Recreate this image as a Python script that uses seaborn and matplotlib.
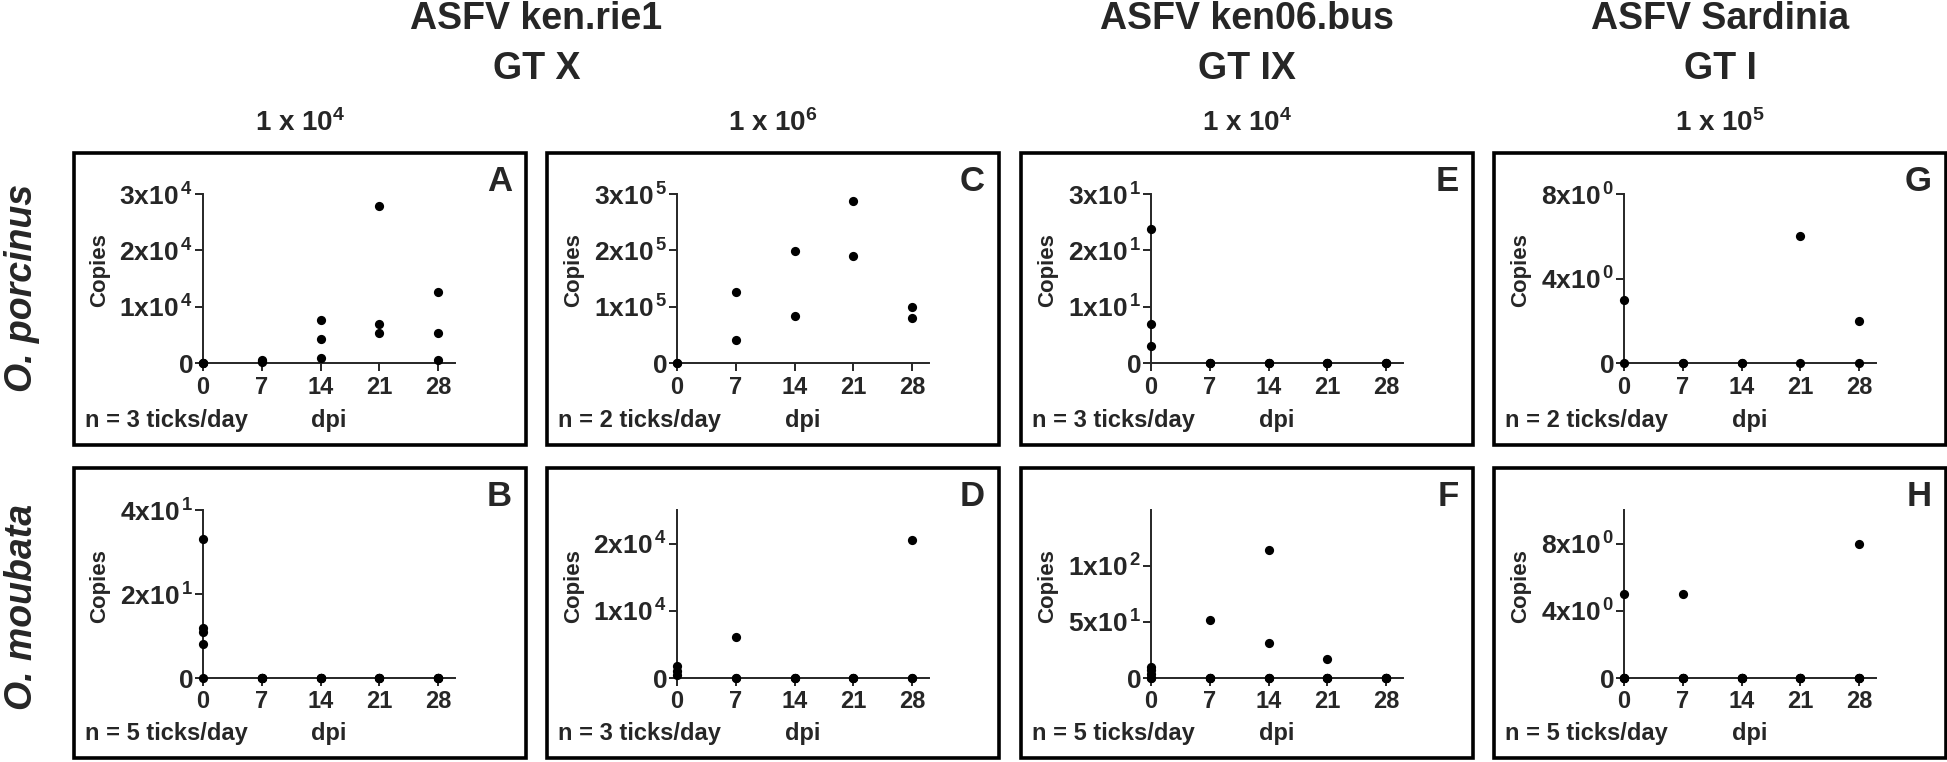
import numpy as np
import pandas as pd
import matplotlib
matplotlib.use("Agg")
import matplotlib.pyplot as plt
from matplotlib.patches import Rectangle
import seaborn as sns

# days post infection
dpi_days = [0, 7, 14, 21, 28]

# O. porcinus (top row): copies per tick, one inner list per day
copies_A = [[0, 0, 0], [600, 300, 100], [7600, 4200, 950], [27900, 6900, 5400], [12600, 5400, 600]]
copies_C = [[0, 0], [126600, 40400], [198000, 83800], [287000, 190700], [99800, 80200]]
copies_E = [[23.8, 7.0, 3.0], [0, 0, 0], [0, 0, 0], [0, 0, 0], [0, 0, 0]]
copies_G = [[3.0, 0], [0, 0], [0, 0], [6.0, 0], [2.0, 0]]

# O. moubata (bottom row)
copies_B = [[33, 12, 11, 8, 0], [0, 0, 0, 0, 0], [0, 0, 0, 0, 0], [0, 0, 0, 0, 0], [0, 0, 0, 0, 0]]
copies_D = [[1800, 1000, 500], [6100, 0, 0], [0, 0, 0], [0, 0, 0], [20500, 0, 0]]
copies_F = [[10, 7, 4, 0, 0], [52, 0, 0, 0, 0], [114, 31, 0, 0, 0], [17, 0, 0, 0, 0], [0, 0, 0, 0, 0]]
copies_H = [[5, 0, 0, 0, 0], [5, 0, 0, 0, 0], [0, 0, 0, 0, 0], [0, 0, 0, 0, 0], [8, 0, 0, 0, 0]]

panel_letters = ["A", "B", "C", "D", "E", "F", "G", "H"]
panel_copies = [copies_A, copies_B, copies_C, copies_D, copies_E, copies_F, copies_G, copies_H]
ticks_per_day = [3, 5, 2, 3, 3, 5, 2, 5]
y_max = [3e4, 40, 3e5, 2.5e4, 30, 150, 8, 10]
y_ticks = [[0, 1e4, 2e4, 3e4], [0, 20, 40], [0, 1e5, 2e5, 3e5], [0, 1e4, 2e4],
           [0, 10, 20, 30], [0, 50, 100], [0, 4, 8], [0, 4, 8]]

strain_titles = [["ASFV ken.rie1", "GT X"], ["ASFV ken06.bus", "GT IX"], ["ASFV Sardinia", "GT I"]]
dose_labels = ["1 x 10$^{4}$", "1 x 10$^{6}$", "1 x 10$^{4}$", "1 x 10$^{5}$"]
tick_species = ["O. porcinus", "O. moubata"]

sns.set_style("ticks")
plt.rcParams["font.family"] = ["Liberation Sans", "DejaVu Sans"]
plt.rcParams["font.weight"] = "bold"
plt.rcParams["mathtext.fontset"] = "custom"
plt.rcParams["mathtext.rm"] = "Liberation Sans:bold"
plt.rcParams["mathtext.it"] = "Liberation Sans:bold"
plt.rcParams["mathtext.bf"] = "Liberation Sans:bold"
plt.rcParams["mathtext.default"] = "rm"

W, H = 1947, 762
fig = plt.figure(figsize=(W / 100, H / 100), dpi=100)


def fx(x):
    return x / W


def fy(y):
    return 1 - y / H


def sci_label(v):
    if v == 0:
        return "0"
    e = int(np.floor(np.log10(v)))
    m = v / 10 ** e
    return f"{m:g}x10$^{{\\,{e}}}$"


box_left = [74, 547, 1021, 1494]
box_w = 452
box_rows = [(153, 445), (468, 758)]
axis_x0 = [203, 677, 1151, 1624]
axis_w = 252
axis_rows = [(194, 363), (510, 678)]

for i, letter in enumerate(panel_letters):
    col, row = i // 2, i % 2
    # frame round each panel
    bt, bb = box_rows[row]
    fig.add_artist(Rectangle((fx(box_left[col]), fy(bb)), box_w / W, (bb - bt) / H,
                             transform=fig.transFigure, fill=False, lw=2.6, ec="black"))

    at, ab = axis_rows[row]
    ax = fig.add_axes([fx(axis_x0[col]), fy(ab), axis_w / W, (ab - at) / H])

    days, vals = [], []
    for d, day_vals in zip(dpi_days, panel_copies[i]):
        days += [d] * len(day_vals)
        vals += day_vals
    df = pd.DataFrame({"dpi": days, "copies": vals})
    sns.scatterplot(data=df, x="dpi", y="copies", color="black", s=44, linewidth=0,
                    clip_on=False, zorder=3, legend=False, ax=ax)

    ax.set_xlim(0, 30)
    ax.set_ylim(0, y_max[i])
    ax.set_xticks(dpi_days)
    ax.set_xticklabels([str(d) for d in dpi_days], fontsize=17, fontweight="bold")
    ax.set_yticks(y_ticks[i])
    ax.set_yticklabels([sci_label(v) for v in y_ticks[i]], fontsize=19)
    ax.set_xlabel("")
    ax.set_ylabel("")
    sns.despine(ax=ax)
    for s in ["left", "bottom"]:
        ax.spines[s].set_linewidth(1.4)
    ax.tick_params(axis="y", length=6, width=1.4, pad=1)
    ax.tick_params(axis="x", length=6, width=1.4, pad=3)
    ax.patch.set_alpha(0)

    ax.text(-0.41, 0.55, "Copies", rotation=90, ha="center", va="center",
            fontsize=16, fontweight="bold", transform=ax.transAxes)
    fig.text(fx(box_left[col] + 11), fy(bb - 18), f"n = {ticks_per_day[i]} ticks/day",
             fontsize=17, fontweight="bold", ha="left", va="baseline")
    fig.text(fx(axis_x0[col] + axis_w / 2), fy(bb - 18), "dpi",
             fontsize=17, fontweight="bold", ha="center", va="baseline")
    fig.text(fx(box_left[col] + box_w - 14), fy(bt + 38), letter,
             fontsize=25, fontweight="bold", ha="right", va="baseline")

# column headers
title_centers = [(box_left[0] + box_left[1] + box_w) / 2,
                 box_left[2] + box_w / 2, box_left[3] + box_w / 2]
for (line1, line2), cx in zip(strain_titles, title_centers):
    fig.text(fx(cx), fy(29), line1, fontsize=27, fontweight="bold", ha="center", va="baseline")
    fig.text(fx(cx), fy(79), line2, fontsize=27, fontweight="bold", ha="center", va="baseline")

for col, lab in enumerate(dose_labels):
    fig.text(fx(box_left[col] + box_w / 2), fy(131), lab, fontsize=20,
             fontweight="bold", ha="center", va="baseline")

# row labels
for row, name in enumerate(tick_species):
    cy = [288, 607][row]
    fig.text(fx(22), fy(cy), name, rotation=90, fontsize=27, fontweight="bold",
             fontstyle="italic", ha="center", va="center")

fig.savefig("out.png", dpi=100, facecolor="white")
